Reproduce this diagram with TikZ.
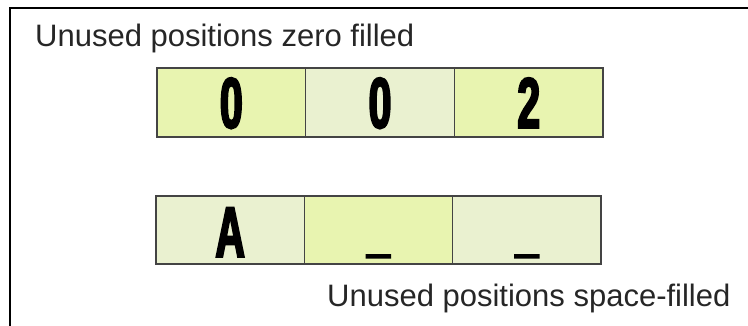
\documentclass[tikz,border=0pt]{standalone}
\usepackage{fontspec}
\setmainfont{Liberation Sans}
\newfontfamily\digitfont[FakeStretch=0.57,BoldFeatures={FakeBold=2.6}]{Liberation Sans}
\definecolor{cellyellow}{HTML}{E8F4B0}
\definecolor{cellpale}{HTML}{EAF1D0}
\definecolor{cellline}{HTML}{444444}
\begin{document}
\begin{tikzpicture}[x=1pt,y=-1pt,
  cell/.style={draw=cellline,line width=1.5pt,inner sep=0pt,outer sep=0pt,
    minimum height=#1,font=\digitfont\bfseries\fontsize{72}{72}\selectfont},
  toprow/.style={cell=69pt,minimum width=148.7pt,text height=60pt,text depth=9pt},
  botrow/.style={cell=68pt,minimum width=148.33pt,text height=61pt,text depth=7pt},
  caption/.style={inner sep=0pt,text=black!85,font=\fontsize{31}{37}\selectfont}]
\useasboundingbox (0,0) rectangle (748,326);
\draw[line width=2.5pt] (10,326) -- (10,8) -- (748,8);
\node[caption,anchor=base west] (t1) at (35,47) {Unused positions zero filled};
\node[toprow,fill=cellyellow] (a1) at (231.35,102.5) {0};
\node[toprow,fill=cellpale] (a2) at (380.05,102.5) {0};
\node[toprow,fill=cellyellow] (a3) at (528.75,102.5) {2};
\node[botrow,fill=cellpale] (b1) at (230.17,230) {A};
\node[botrow,fill=cellyellow] (b2) at (378.5,230) {\raisebox{8pt}{\_}};
\node[botrow,fill=cellpale] (b3) at (526.83,230) {\raisebox{8pt}{\_}};
\node[caption,anchor=base west] (t2) at (327,306) {Unused positions space-filled};
\end{tikzpicture}
\end{document}
